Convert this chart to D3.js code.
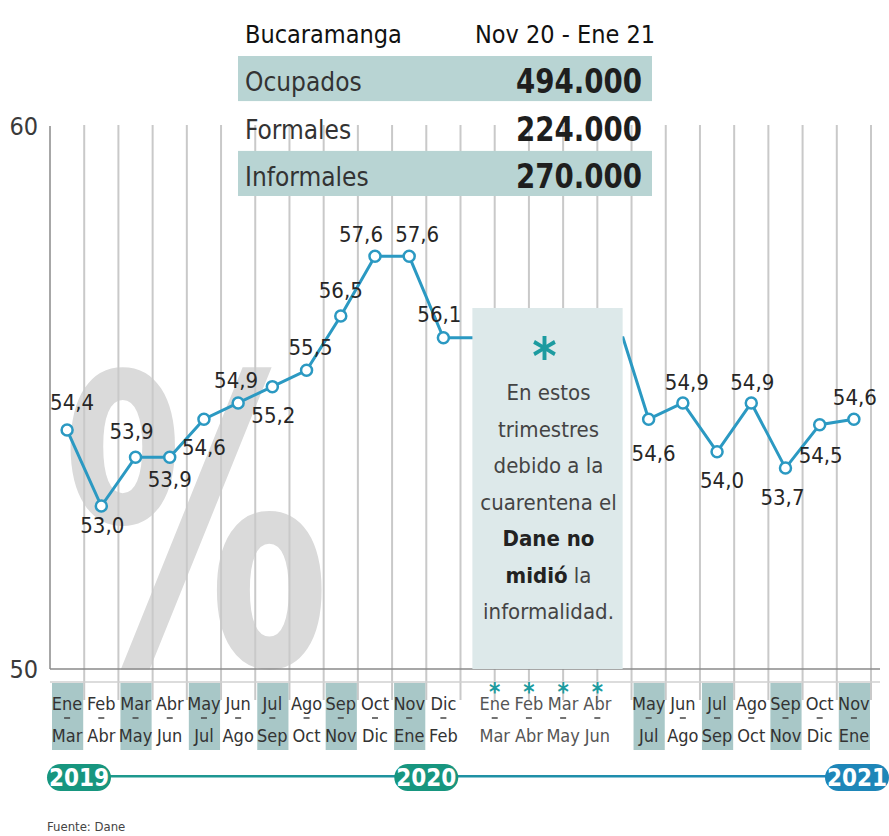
<!DOCTYPE html>
<html>
<head>
<meta charset="utf-8">
<script src="https://cdn.jsdelivr.net/npm/d3@7"></script>
<style>
  body { margin: 0; background: #fff; }
  svg { display: block; }
  text { font-family: "DejaVu Sans Condensed", "Liberation Sans Narrow", sans-serif; font-stretch: condensed; }
</style>
</head>
<body>
<svg id="drawing_region"></svg>
<script>
// datos
const mesInicio = ['Ene','Feb','Mar','Abr','May','Jun','Jul','Ago','Sep','Oct','Nov','Dic',
                   'Ene','Feb','Mar','Abr','May','Jun','Jul','Ago','Sep','Oct','Nov'];
const mesFin    = ['Mar','Abr','May','Jun','Jul','Ago','Sep','Oct','Nov','Dic','Ene','Feb',
                   'Mar','Abr','May','Jun','Jul','Ago','Sep','Oct','Nov','Dic','Ene'];
// tasa de informalidad (%), null = trimestre sin medicion
const informalidad = [54.4, 53.0, 53.9, 53.9, 54.6, 54.9, 55.2, 55.5, 56.5, 57.6, 57.6, 56.1,
                      null, null, null, null,
                      54.6, 54.9, 54.0, 54.9, 53.7, 54.5, 54.6];
const anios = ['2019', '2020', '2021'];
const yTicks = [50, 60];

const tablaTitulo = ['Bucaramanga', 'Nov 20 - Ene 21'];
const tablaFilas = ['Ocupados', 'Formales', 'Informales'];
const tablaValores = ['494.000', '224.000', '270.000'];

const notaLineas = [
    [['En estos', false]],
    [['trimestres', false]],
    [['debido a la', false]],
    [['cuarentena el', false]],
    [['Dane no', true]],
    [['midió', true], [' la', false]],
    [['informalidad.', false]]
];

// ubicacion de cada etiqueta respecto a su punto (dx, dy)
const etiquetaPos = [[5,-20],[1,27],[-4,-18],[0,30],[0,36],[-2,-15],[1,36],[4,-15],[0,-18],[-14,-14],[8,-14],[-4,-16],
                     null,null,null,null,
                     [5,42],[4,-13],[5,36],[1,-13],[-3,37],[1,38],[1,-14]];

const W = 889, H = 836;
const svg = d3.select('#drawing_region').attr('width', W).attr('height', H);

const colLinea = '#2b99c2';
const colBanda = '#b8d4d3';
const colCaja = '#a8c7c7';

// 24 columnas de la grilla
const gridX = d3.scaleLinear().domain([0, 24]).range([50, 871]);
// indice de trimestre -> posicion (hueco por la cuarentena)
const xscale = d3.scaleLinear()
    .domain([0, 11, 12, 15, 16, 22])
    .range([0.5, 11.5, 13, 16, 17.5, 23.5].map(gridX));
const yscale = d3.scaleLinear().domain([50, 60]).range([669, 126]);

// porcentaje de fondo
svg.append('text')
    .attr('x', 62).attr('y', 664)
    .attr('font-size', 400).attr('font-weight', 'bold')
    .attr('textLength', 268).attr('lengthAdjust', 'spacingAndGlyphs')
    .attr('fill', '#dadada')
    .text('%');

// grilla vertical
svg.append('g').selectAll('line')
    .data(d3.range(1, 25))
    .join('line')
    .attr('x1', d => gridX(d)).attr('x2', d => gridX(d))
    .attr('y1', 125).attr('y2', 700)
    .attr('stroke', '#c9c9c9').attr('stroke-width', 2);

// eje y
svg.append('line')
    .attr('x1', 50).attr('x2', 50)
    .attr('y1', yscale(60)).attr('y2', yscale(50))
    .attr('stroke', '#8a8a8a').attr('stroke-width', 1.5);
svg.append('line')
    .attr('x1', 50).attr('x2', 880)
    .attr('y1', yscale(50)).attr('y2', yscale(50))
    .attr('stroke', '#8a8a8a').attr('stroke-width', 1.5);
svg.append('line')
    .attr('x1', 50).attr('x2', 880)
    .attr('y1', 682).attr('y2', 682)
    .attr('stroke', '#d0d0d0').attr('stroke-width', 1.5);

svg.append('g').selectAll('text')
    .data(yTicks)
    .join('text')
    .attr('x', 38).attr('y', d => yscale(d) + 9)
    .attr('text-anchor', 'end')
    .attr('font-size', 25)
    .attr('fill', '#3a3a3a')
    .text(d => d);

// tabla superior
svg.append('text')
    .attr('x', 245).attr('y', 43)
    .attr('font-size', 25).attr('fill', '#111')
    .text(tablaTitulo[0]);
svg.append('text')
    .attr('x', 655).attr('y', 43)
    .attr('text-anchor', 'end')
    .attr('font-size', 25).attr('fill', '#111')
    .text(tablaTitulo[1]);

const filaY = d3.scaleBand().domain(tablaFilas).range([56, 196]).paddingInner(0.05);
const filas = svg.append('g').selectAll('g')
    .data(tablaFilas)
    .join('g')
    .attr('transform', d => `translate(0, ${filaY(d)})`);
filas.append('rect')
    .attr('x', 238).attr('width', 414)
    .attr('height', filaY.bandwidth())
    .attr('fill', (d, i) => i % 2 === 0 ? colBanda : 'none');
filas.append('text')
    .attr('x', 245).attr('y', filaY.bandwidth() - 10)
    .attr('font-size', 26).attr('fill', '#333')
    .text(d => d);
filas.append('text')
    .attr('x', 642).attr('y', filaY.bandwidth() - 8)
    .attr('text-anchor', 'end')
    .attr('font-size', 34).attr('font-weight', 'bold').attr('fill', '#1e1e1e')
    .attr('textLength', 126).attr('lengthAdjust', 'spacingAndGlyphs')
    .text((d, i) => tablaValores[i]);

// linea
const puntos = informalidad.map((v, i) => ({ i: i, v: v })).filter(d => d.v !== null);
const linea = d3.line()
    .defined(d => d.v !== null)
    .x(d => xscale(d.i))
    .y(d => yscale(d.v));

svg.append('path')
    .datum(informalidad.map((v, i) => ({ i: i, v: v })))
    .attr('d', linea)
    .attr('fill', 'none').attr('stroke', colLinea).attr('stroke-width', 3);

// tramo oculto bajo la nota: se mantiene el ultimo valor hasta el siguiente dato
const antes = puntos.find(d => d.i === 11), despues = puntos.find(d => d.i === 16);
svg.append('path')
    .datum([antes, { i: despues.i - 0.5, v: antes.v }, despues])
    .attr('d', linea)
    .attr('fill', 'none').attr('stroke', colLinea).attr('stroke-width', 3);

// nota de la cuarentena
const notaX0 = xscale(11) + 29, notaX1 = xscale(16) - 26;
svg.append('rect')
    .attr('x', notaX0).attr('y', 308)
    .attr('width', notaX1 - notaX0).attr('height', yscale(50) - 308)
    .attr('fill', '#dde9ea');
const notaCx = (notaX0 + notaX1) / 2 + 1;
svg.append('text')
    .attr('x', notaCx - 4).attr('y', 374)
    .attr('text-anchor', 'middle')
    .attr('font-size', 52).attr('font-weight', 'bold').attr('fill', '#1c9ba0')
    .text('*');
svg.append('g').selectAll('text')
    .data(notaLineas)
    .join('text')
    .attr('x', notaCx).attr('y', (d, i) => 400 + i * 36.5)
    .attr('text-anchor', 'middle')
    .attr('font-size', 22).attr('fill', '#444')
    .selectAll('tspan')
    .data(d => d)
    .join('tspan')
    .attr('font-weight', d => d[1] ? 'bold' : 'normal')
    .attr('fill', d => d[1] ? '#222' : '#444')
    .text(d => d[0]);

// marcadores
svg.append('g').selectAll('circle')
    .data(puntos)
    .join('circle')
    .attr('cx', d => xscale(d.i)).attr('cy', d => yscale(d.v))
    .attr('r', 5.5)
    .attr('fill', '#fff').attr('stroke', colLinea).attr('stroke-width', 2.5);

// etiquetas de valores
svg.append('g').selectAll('text')
    .data(puntos)
    .join('text')
    .attr('x', d => xscale(d.i) + etiquetaPos[d.i][0])
    .attr('y', d => yscale(d.v) + etiquetaPos[d.i][1])
    .attr('text-anchor', 'middle')
    .attr('font-size', 22).attr('fill', '#262626')
    .text(d => d3.format('.1f')(d.v).replace('.', ','));

// eje x: trimestres
const colW = gridX(1) - gridX(0);
const ejeX = svg.append('g').selectAll('g')
    .data(mesInicio.map((m, i) => ({ i: i, ini: m, fin: mesFin[i], sin: informalidad[i] === null })))
    .join('g')
    .attr('transform', d => `translate(${xscale(d.i)}, 0)`);
ejeX.filter(d => !d.sin && d.i % 2 === 0)
    .append('rect')
    .attr('x', -colW / 2 + 2).attr('y', 683)
    .attr('width', colW - 3).attr('height', 67)
    .attr('fill', colCaja);
ejeX.append('text')
    .attr('y', 710).attr('text-anchor', 'middle')
    .attr('font-size', 18).attr('fill', d => d.sin ? '#555' : '#333')
    .text(d => d.ini);
ejeX.append('line')
    .attr('x1', -3).attr('x2', 3)
    .attr('y1', 718).attr('y2', 718)
    .attr('stroke', '#444').attr('stroke-width', 1.5);
ejeX.append('text')
    .attr('y', 742).attr('text-anchor', 'middle')
    .attr('font-size', 18).attr('fill', d => d.sin ? '#555' : '#333')
    .text(d => d.fin);
ejeX.filter(d => d.sin)
    .append('text')
    .attr('y', 700).attr('text-anchor', 'middle')
    .attr('font-size', 24).attr('font-weight', 'bold').attr('fill', '#1c9ba0')
    .text('*');

// linea de tiempo
const grad = svg.append('defs').append('linearGradient')
    .attr('id', 'tiempo').attr('x1', '0%').attr('x2', '100%');
grad.append('stop').attr('offset', '0%').attr('stop-color', '#1d9a88');
grad.append('stop').attr('offset', '100%').attr('stop-color', '#2088bd');
svg.append('rect')
    .attr('x', 60).attr('y', 775).attr('width', 800).attr('height', 2.5)
    .attr('fill', 'url(#tiempo)');

const anioX = [gridX(0) + 29, (xscale(10) + xscale(11)) / 2, gridX(24) - 14];
const anioCol = ['#17967f', '#17967f', '#1e86b8'];
const anioG = svg.append('g').selectAll('g')
    .data(anios)
    .join('g')
    .attr('transform', (d, i) => `translate(${anioX[i]}, 777)`);
anioG.append('rect')
    .attr('x', -32).attr('y', -13).attr('width', 64).attr('height', 27).attr('rx', 13.5)
    .attr('fill', (d, i) => anioCol[i]);
anioG.append('text')
    .attr('y', 9).attr('text-anchor', 'middle')
    .attr('font-size', 24).attr('font-weight', 'bold').attr('fill', '#fff')
    .text(d => d);

svg.append('text')
    .attr('x', 47).attr('y', 831)
    .attr('font-size', 13).attr('fill', '#444')
    .text('Fuente: Dane');
</script>
</body>
</html>
